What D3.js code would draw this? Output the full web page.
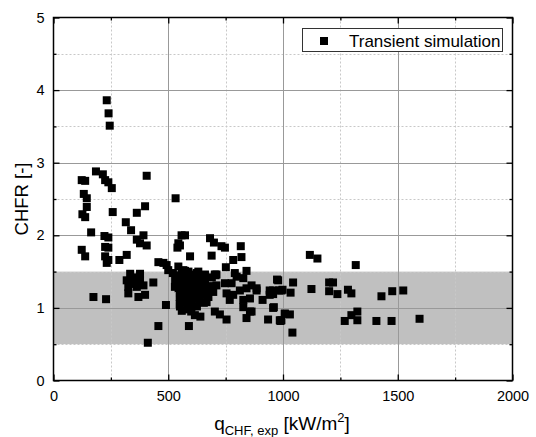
<!DOCTYPE html>
<html>
<head>
<meta charset="utf-8">
<script src="https://cdn.jsdelivr.net/npm/d3@7"></script>
<style>
  html, body { margin: 0; padding: 0; background: #fff; }
  svg { display: block; font-family: "Liberation Sans", Arial, sans-serif; }
</style>
</head>
<body>
<svg id="chart" width="536" height="437"></svg>
<script>
// Experimental heat flux q_CHF,exp [kW/m2] and the matching CHFR from transient simulation
const qExp = [
  232, 240, 245, 185, 215, 123, 138, 225, 239, 254, 406, 132, 145, 532,
  145, 126, 138, 258, 399, 363, 315, 338, 164, 222, 239, 363, 392, 377, 406, 558, 551,
  123, 225, 239, 138, 225, 239, 232, 287, 319,
  573, 540, 544, 595, 457, 493, 500, 544, 682, 699, 732, 747, 816, 689, 819, 783, 751, 841, 706,
  479, 573, 624, 703, 790,
  334, 377, 319, 348, 377, 326, 363, 392, 435, 326, 370, 399, 174, 229, 490, 457, 411, 334, 355,
  566, 588, 631, 540, 580, 624, 529, 559, 602, 638, 551, 595, 653, 667, 551, 602, 559, 616, 590,
  573, 616, 580, 609, 646, 544, 624, 580, 602,
  545, 560, 575, 590, 605, 620, 640, 555, 570, 585, 600, 615, 630, 650, 545, 560, 575, 590, 605,
  620, 640, 665, 550, 565, 580, 600, 635, 655, 570, 595, 610, 625, 660, 680, 690, 530, 540, 675,
  585, 625, 600, 640, 520, 550, 660, 578,
  710, 710, 696, 747, 776, 798, 827, 754, 783, 812, 841, 885, 768, 827, 856, 827, 856, 841,
  703, 725, 754, 911, 942, 960, 974, 983, 942, 935, 986, 1008, 1041,
  1117, 1150, 1317, 1044, 998, 1033, 1124, 1201, 1218, 1201, 1237, 1283, 1298, 1429, 1476, 1524,
  1030, 993, 1269, 1298, 1324, 1324, 1407, 1473, 1595,
  979, 863, 885, 957, 993, 957, 1008, 863, 957, 989
];
const chfr = [
  3.86, 3.68, 3.51, 2.88, 2.84, 2.76, 2.75, 2.76, 2.73, 2.65, 2.82, 2.57, 2.51, 2.51,
  2.39, 2.29, 2.25, 2.32, 2.40, 2.31, 2.18, 2.07, 2.04, 1.99, 1.97, 1.94, 2.00, 1.89, 1.86, 2.00, 1.86,
  1.80, 1.84, 1.83, 1.71, 1.71, 1.66, 1.62, 1.66, 1.73,
  2.00, 1.83, 1.89, 1.71, 1.63, 1.59, 1.52, 1.57, 1.96, 1.90, 1.85, 1.83, 1.85, 1.72, 1.70, 1.66, 1.56, 1.51, 1.45,
  1.62, 1.51, 1.48, 1.46, 1.48,
  1.47, 1.47, 1.38, 1.38, 1.38, 1.29, 1.29, 1.31, 1.35, 1.20, 1.15, 1.18, 1.15, 1.12, 1.04, 0.75, 0.52, 1.33, 1.42,
  1.52, 1.50, 1.50, 1.43, 1.38, 1.38, 1.29, 1.29, 1.29, 1.29, 1.20, 1.20, 1.18, 1.08, 1.02, 1.02, 0.96, 0.90, 0.75,
  1.13, 1.13, 1.34, 1.43, 1.38, 1.36, 1.22, 1.24, 1.08,
  1.45, 1.48, 1.42, 1.46, 1.40, 1.45, 1.42, 1.38, 1.33, 1.30, 1.35, 1.32, 1.30, 1.33, 1.27, 1.22, 1.25, 1.18, 1.24,
  1.17, 1.20, 1.25, 1.15, 1.10, 1.08, 1.12, 1.10, 1.07, 1.40, 1.37, 1.28, 1.37, 1.38, 1.30, 1.42, 1.38, 1.32, 1.15,
  0.98, 1.02, 0.95, 0.88, 1.48, 1.05, 1.46, 1.18,
  1.46, 1.31, 1.22, 1.34, 1.34, 1.43, 1.41, 1.20, 1.18, 1.24, 1.27, 1.27, 1.11, 1.11, 1.13, 1.01, 0.95, 0.86,
  0.95, 0.91, 0.84, 1.11, 1.18, 1.01, 1.39, 1.24, 1.24, 0.84, 0.83, 0.92, 0.66,
  1.73, 1.68, 1.59, 1.35, 1.25, 1.21, 1.26, 1.35, 1.35, 1.23, 1.19, 1.25, 1.20, 1.16, 1.23, 1.24,
  0.91, 0.83, 0.82, 0.90, 0.95, 0.83, 0.82, 0.82, 0.85,
  1.38, 1.31, 1.24, 1.24, 1.24, 1.19, 0.92, 0.95, 1.00, 0.82
];

// Shaded acceptance band for CHFR
const bandRange = [0.5, 1.5];

// Axis ticks
const xMajor = [0, 500, 1000, 1500, 2000];
const xMinor = [250, 750, 1250, 1750];
const yMajor = [0, 1, 2, 3, 4, 5];
const yMinor = [0.5, 1.5, 2.5, 3.5, 4.5];

const legendLabel = "Transient simulation";

const svg = d3.select("#chart");
const m = { left: 53.5, right: 512.5, top: 17.5, bottom: 380.5 };

const x = d3.scaleLinear().domain([0, 2000]).range([m.left, m.right]);
const y = d3.scaleLinear().domain([0, 5]).range([m.bottom, m.top]);

// Band
svg.append("rect")
  .attr("x", x(0)).attr("width", x(2000) - x(0))
  .attr("y", y(bandRange[1])).attr("height", y(bandRange[0]) - y(bandRange[1]))
  .attr("fill", "#c0c0c0");

// Minor grid (dotted)
const grid = svg.append("g");
grid.selectAll(".vmin").data(xMinor).join("line")
  .attr("x1", d => Math.round(x(d)) + 0.5).attr("x2", d => Math.round(x(d)) + 0.5)
  .attr("y1", m.top).attr("y2", m.bottom)
  .attr("stroke", "#c8c8c8").attr("stroke-width", 1).attr("stroke-dasharray", "2,2");
grid.selectAll(".hmin").data(yMinor).join("line")
  .attr("y1", d => Math.round(y(d)) + 0.5).attr("y2", d => Math.round(y(d)) + 0.5)
  .attr("x1", m.left).attr("x2", m.right)
  .attr("stroke", "#c8c8c8").attr("stroke-width", 1).attr("stroke-dasharray", "2,2");

// Major grid (solid)
grid.selectAll(".vmaj").data(xMajor.slice(1, -1)).join("line")
  .attr("x1", d => Math.round(x(d)) + 0.5).attr("x2", d => Math.round(x(d)) + 0.5)
  .attr("y1", m.top).attr("y2", m.bottom)
  .attr("stroke", "#999999").attr("stroke-width", 1);
grid.selectAll(".hmaj").data(yMajor.slice(1, -1)).join("line")
  .attr("y1", d => Math.round(y(d)) + 0.5).attr("y2", d => Math.round(y(d)) + 0.5)
  .attr("x1", m.left).attr("x2", m.right)
  .attr("stroke", "#999999").attr("stroke-width", 1);

// Data markers
const size = 8;
svg.append("g").selectAll("rect").data(qExp.map((q, i) => [q, chfr[i]])).join("rect")
  .attr("x", d => x(d[0]) - size / 2)
  .attr("y", d => y(d[1]) - size / 2)
  .attr("width", size).attr("height", size)
  .attr("fill", "#000");

// Axes with inward ticks on all four sides
function styleAxis(g) {
  g.select(".domain").remove();
  g.selectAll(".tick line").attr("stroke", "#000").attr("stroke-width", 1.3);
  g.selectAll("text").attr("fill", "#000").attr("font-size", 14.5)
    .attr("font-family", "'Liberation Sans', Arial, sans-serif");
}
svg.append("g").attr("transform", `translate(0,${m.bottom})`)
  .call(d3.axisBottom(x).tickValues(xMajor).tickSize(-6).tickPadding(10).tickFormat(d3.format("d")))
  .call(styleAxis);
svg.append("g").attr("transform", `translate(0,${m.bottom})`)
  .call(d3.axisBottom(x).tickValues(xMinor).tickSize(-3).tickFormat(""))
  .call(styleAxis);
svg.append("g").attr("transform", `translate(0,${m.top})`)
  .call(d3.axisTop(x).tickValues(xMajor).tickSize(-6).tickFormat(""))
  .call(styleAxis);
svg.append("g").attr("transform", `translate(0,${m.top})`)
  .call(d3.axisTop(x).tickValues(xMinor).tickSize(-3).tickFormat(""))
  .call(styleAxis);

svg.append("g").attr("transform", `translate(${m.left},0)`)
  .call(d3.axisLeft(y).tickValues(yMajor).tickSize(-6).tickPadding(9).tickFormat(d3.format("d")))
  .call(styleAxis);
svg.append("g").attr("transform", `translate(${m.left},0)`)
  .call(d3.axisLeft(y).tickValues(yMinor).tickSize(-3).tickFormat(""))
  .call(styleAxis);
svg.append("g").attr("transform", `translate(${m.right},0)`)
  .call(d3.axisRight(y).tickValues(yMajor).tickSize(-6).tickFormat(""))
  .call(styleAxis);
svg.append("g").attr("transform", `translate(${m.right},0)`)
  .call(d3.axisRight(y).tickValues(yMinor).tickSize(-3).tickFormat(""))
  .call(styleAxis);

// Frame
svg.append("rect")
  .attr("x", m.left).attr("y", m.top)
  .attr("width", m.right - m.left).attr("height", m.bottom - m.top)
  .attr("fill", "none").attr("stroke", "#000").attr("stroke-width", 1.5);

// Axis titles
svg.append("text")
  .attr("transform", `translate(22,${(m.top + m.bottom) / 2}) rotate(-90)`)
  .attr("text-anchor", "middle").attr("dy", "0.35em")
  .attr("font-size", 18.5).attr("fill", "#000")
  .text("CHFR [-]");

const xt = svg.append("text")
  .attr("x", 282).attr("y", 430)
  .attr("text-anchor", "middle").attr("font-size", 19).attr("fill", "#000");
xt.append("tspan").text("q");
xt.append("tspan").attr("font-size", 13).attr("dy", 5).text("CHF, exp");
xt.append("tspan").attr("dy", -5).text(" [kW/m");
xt.append("tspan").attr("font-size", 13).attr("dy", -8).text("2");
xt.append("tspan").attr("dy", 8).text("]");

// Legend
const lg = svg.append("g");
lg.append("rect").attr("x", 302.5).attr("y", 28.5).attr("width", 200).attr("height", 23)
  .attr("fill", "#fff").attr("stroke", "#333").attr("stroke-width", 1);
lg.append("rect").attr("x", 320).attr("y", 37).attr("width", size).attr("height", size).attr("fill", "#000");
lg.append("text").attr("x", 349).attr("y", 41).attr("dy", "0.35em")
  .attr("font-size", 17).attr("fill", "#000").text(legendLabel);
</script>
</body>
</html>
